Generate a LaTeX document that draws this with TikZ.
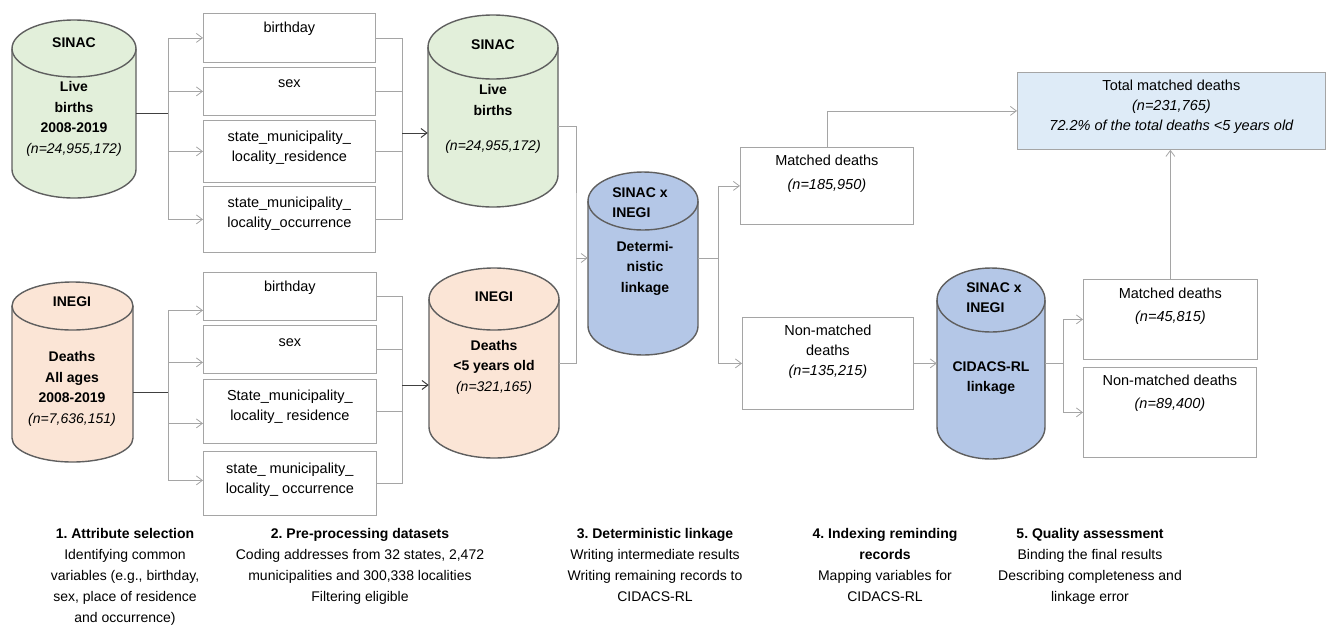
\documentclass[tikz,border=0pt]{standalone}
\usepackage{fontspec}
\setmainfont{Liberation Sans}
\usetikzlibrary{arrows.meta,positioning}
\definecolor{livegreen}{HTML}{E2EFDA}
\definecolor{deathorange}{HTML}{FBE5D6}
\definecolor{linkblue}{HTML}{B4C7E7}
\definecolor{totalblue}{HTML}{DEEBF7}
\definecolor{dbline}{HTML}{5F5F5F}
\definecolor{boxline}{HTML}{A5A5A5}
\definecolor{wireline}{HTML}{A5A5A5}
\definecolor{darkwire}{HTML}{404040}
% database drum: x0, y0, x1, y1, end radius, fill
\newcommand{\dbshape}[6]{%
  \pgfmathsetmacro{\dbxc}{(#1+#3)/2}
  \pgfmathsetmacro{\dbkx}{0.5523*(#3-#1)/2}
  \pgfmathsetmacro{\dbky}{0.5523*#5}
  \filldraw[db, fill=#6] (#1,#2+#5) -- (#1,#4-#5)
    .. controls (#1,#4-#5+\dbky) and (\dbxc-\dbkx,#4) .. (\dbxc,#4)
    .. controls (\dbxc+\dbkx,#4) and (#3,#4-#5+\dbky) .. (#3,#4-#5)
    -- (#3,#2+#5)
    .. controls (#3,#2+#5-\dbky) and (\dbxc+\dbkx,#2) .. (\dbxc,#2)
    .. controls (\dbxc-\dbkx,#2) and (#1,#2+#5-\dbky) .. (#1,#2+#5) -- cycle;
  \draw[db] (#1,#2+#5)
    .. controls (#1,#2+#5+\dbky) and (\dbxc-\dbkx,#2+2*#5) .. (\dbxc,#2+2*#5)
    .. controls (\dbxc+\dbkx,#2+2*#5) and (#3,#2+#5+\dbky) .. (#3,#2+#5);
}
\tikzset{
  db/.style={draw=dbline, line width=1.4pt},
  dbbox/.style={inner sep=0pt},
  dbtxt/.style={inner sep=0pt, align=center, font=\fontsize{14}{20.5}\selectfont\bfseries},
  varbox/.style={draw=boxline, line width=0.8pt, inner sep=0pt, anchor=north west},
  vtxt/.style={inner sep=0pt, align=center, font=\fontsize{14.5}{20}\selectfont},
  wire/.style={draw=wireline, line width=0.8pt},
  dwire/.style={draw=darkwire, line width=1pt},
  steptxt/.style={inner sep=0pt, anchor=north, align=center, font=\fontsize{14}{21}\selectfont},
  >={Straight Barb[length=6pt,width=9pt]}
}
\begin{document}
\frenchspacing
\begin{tikzpicture}[x=1pt,y=-1pt]
  \useasboundingbox (0,0) rectangle (1327,625);
  % data sources
  \dbshape{12}{20}{136}{198}{28.5}{livegreen}
  \dbshape{12}{282}{133}{462}{24}{deathorange}
  \node[dbbox, minimum width=124pt, minimum height=178pt] (sinac1) at (74,109) {};
  \node[dbbox, minimum width=121pt, minimum height=180pt] (inegi1) at (72.5,372) {};
  \node[dbtxt] (sinac1-top) at (74,43) {SINAC};
  \node[dbtxt] (sinac1-txt) at (74,119) {Live\\births\\2008-2019\\\mdseries\itshape (n=24,955,172)};
  \node[dbtxt] (inegi1-top) at (72,302) {INEGI};
  \node[dbtxt] (inegi1-txt) at (72,389) {Deaths\\All ages\\2008-2019\\\mdseries\itshape (n=7,636,151)};
  % attribute boxes
  \node[varbox, minimum width=172pt, minimum height=49pt] (b1) at (203,13) {};
  \node[varbox, minimum width=172pt, minimum height=48pt] (b2) at (203,67) {};
  \node[varbox, minimum width=172pt, minimum height=62pt] (b3) at (203,120) {};
  \node[varbox, minimum width=172pt, minimum height=66pt] (b4) at (203,186) {};
  \node[varbox, minimum width=173pt, minimum height=48pt] (b5) at (203,272) {};
  \node[varbox, minimum width=173pt, minimum height=48pt] (b6) at (203,325) {};
  \node[varbox, minimum width=173pt, minimum height=64pt] (b7) at (203,379) {};
  \node[varbox, minimum width=173pt, minimum height=64pt] (b8) at (203,451) {};
  \node[vtxt, below=9pt of b1.north] (b1-txt) {birthday};
  \node[vtxt, below=12pt of b2.north] (b2-txt) {sex};
  \node[vtxt, below=11pt of b3.north] (b3-txt) {state\_municipality\_\\locality\_residence};
  \node[vtxt, below=11pt of b4.north] (b4-txt) {state\_municipality\_\\locality\_occurrence};
  \node[vtxt, below=9pt of b5.north] (b5-txt) {birthday};
  \node[vtxt, below=13pt of b6.north] (b6-txt) {sex};
  \node[vtxt, below=11pt of b7.north] (b7-txt) {State\_municipality\_\\locality\_ residence};
  \node[vtxt, below=12pt of b8.north] (b8-txt) {state\_ municipality\_\\locality\_ occurrence};
  % pre-processed datasets
  \dbshape{428}{15}{558}{207}{32}{livegreen}
  \dbshape{429}{268}{559}{458}{31}{deathorange}
  \node[dbbox, minimum width=130pt, minimum height=192pt] (sinac2) at (493,111) {};
  \node[dbbox, minimum width=130pt, minimum height=190pt] (inegi2) at (494,363) {};
  \node[dbtxt] (sinac2-top) at (493,45) {SINAC};
  \node[dbtxt] (sinac2-txt) at (493,100) {Live\\births};
  \node[dbtxt, font=\fontsize{14}{20.5}\selectfont\itshape] (sinac2-n) at (493,147) {(n=24,955,172)};
  \node[dbtxt] (inegi2-top) at (494,297) {INEGI};
  \node[dbtxt] (inegi2-txt) at (494,367) {Deaths\\<5 years old\\\mdseries\itshape (n=321,165)};
  % linkage
  \dbshape{588}{172}{698}{355}{29}{linkblue}
  \dbshape{937}{268}{1045}{459}{32}{linkblue}
  \node[dbbox, minimum width=110pt, minimum height=183pt] (det) at (643,263.5) {};
  \node[dbtxt, align=left] (det-top) at (640,202.5) {SINAC x\\INEGI};
  \node[dbtxt] (det-txt) at (645,268) {Determi-\\nistic\\linkage};
  \node[dbbox, minimum width=108pt, minimum height=191pt] (cidacs) at (991,363.5) {};
  \node[dbtxt, align=left] (cidacs-top) at (994,297.5) {SINAC x\\INEGI};
  \node[dbtxt] (cidacs-txt) at (991,378) {CIDACS-RL\\linkage};
  % results
  \node[varbox, minimum width=173pt, minimum height=77pt] (md1) at (740,147) {};
  \node[varbox, minimum width=171pt, minimum height=92pt] (nm1) at (742,317) {};
  \node[varbox, minimum width=174pt, minimum height=80pt] (md2) at (1083,279) {};
  \node[varbox, minimum width=173pt, minimum height=90pt] (nm2) at (1083,367) {};
  \node[varbox, fill=totalblue, minimum width=308pt, minimum height=77pt] (total) at (1017,72) {};
  \node[vtxt, below=8pt of md1.north] (md1-txt) {Matched deaths\\[4pt]\itshape (n=185,950)};
  \node[vtxt, below=8pt of nm1.north] (nm1-txt) {Non-matched\\deaths\\\itshape (n=135,215)};
  \node[vtxt, below=9pt of md2.north] (md2-txt) {Matched deaths\\[3pt]\itshape (n=45,815)};
  \node[vtxt, below=8pt of nm2.north] (nm2-txt) {Non-matched deaths\\[3pt]\itshape (n=89,400)};
  \node[vtxt, below=8pt of total.north] (total-txt) {Total matched deaths\\\itshape (n=231,765)\\\itshape 72.2\% of the total deaths <5 years old};
  % connectors
  \coordinate (split1) at (168,113);
  \coordinate (merge1) at (402,133);
  \draw[dwire] (sinac1.east |- split1) -- (split1);
  \draw[wire] (split1 |- b1.west) -- (split1 |- b4.west);
  \foreach \b in {b1,b2,b3,b4}
    \draw[wire,->] (split1 |- \b.west) -- (\b.west);
  \draw[wire] (b1.east) -| (merge1 |- b4.east) -- (b4.east);
  \foreach \b in {b2,b3}
    \draw[wire] (\b.east) -- (merge1 |- \b.east);
  \draw[dwire,->] (merge1) -- (merge1 -| sinac2.west);
  \coordinate (split2) at (168,392);
  \coordinate (merge2) at (402,385);
  \coordinate (in5) at ([yshift=-14pt]b5.west);
  \coordinate (in6) at ([yshift=-13pt]b6.west);
  \coordinate (in7) at ([yshift=-12pt]b7.west);
  \coordinate (in8) at ([yshift=3pt]b8.west);
  \draw[dwire] (inegi1.east |- split2) -- (split2);
  \draw[wire] (split2 |- in5) -- (split2 |- in8);
  \foreach \b in {in5,in6,in7,in8}
    \draw[wire,->] (split2 |- \b) -- (\b);
  \draw[wire] (b5.east) -| (merge2 |- b8.east) -- (b8.east);
  \foreach \b in {b6,b7}
    \draw[wire] (\b.east) -- (merge2 |- \b.east);
  \draw[dwire,->] (merge2) -- (merge2 -| inegi2.west);
  \coordinate (join1) at (576,258);
  \draw[wire] ([yshift=-15pt]sinac2.east) -| (join1) |- (inegi2.east);
  \draw[wire,->] (join1) -- (join1 -| det.west);
  \coordinate (split3) at (718,258);
  \draw[wire] (det.east |- split3) -- (split3);
  \draw[wire] (split3 |- md1.west) -- (split3 |- nm1.west);
  \draw[wire,->] (split3 |- md1.west) -- (md1.west);
  \draw[wire,->] (split3 |- nm1.west) -- (nm1.west);
  \draw[wire,->] (md1.north) |- (total.west);
  \draw[wire,->] (nm1.east) -- (nm1.east -| cidacs.west);
  \coordinate (split4) at (1063,363);
  \draw[wire] (cidacs.east |- split4) -- (split4);
  \draw[wire] (split4 |- md2.west) -- (split4 |- nm2.west);
  \draw[wire,->] (split4 |- md2.west) -- (md2.west);
  \draw[wire,->] (split4 |- nm2.west) -- (nm2.west);
  \draw[wire,->] (md2.north) -- (md2.north |- total.south);
  % steps
  \node[steptxt] (step1) at (125,528) {\textbf{1. Attribute selection}\\Identifying common\\variables (e.g., birthday,\\sex, place of residence\\and occurrence)};
  \node[steptxt] (step2) at (360,528) {\textbf{2. Pre-processing datasets}\\Coding addresses from 32 states, 2,472\\municipalities and 300,338 localities\\Filtering eligible};
  \node[steptxt] (step3) at (655,528) {\textbf{3. Deterministic linkage}\\Writing intermediate results\\Writing remaining records to\\CIDACS-RL};
  \node[steptxt] (step4) at (885,528) {\textbf{4. Indexing reminding}\\\textbf{records}\\Mapping variables for\\CIDACS-RL};
  \node[steptxt] (step5) at (1090,528) {\textbf{5. Quality assessment}\\Binding the final results\\Describing completeness and\\linkage error};
\end{tikzpicture}
\end{document}
